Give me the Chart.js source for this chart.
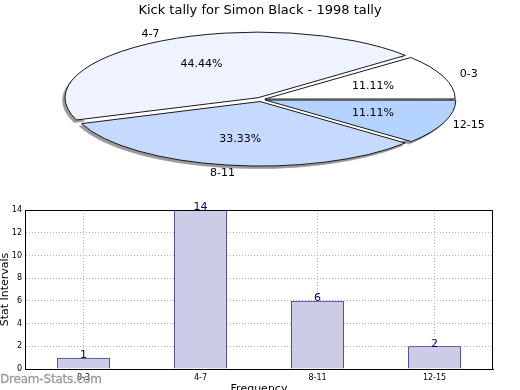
<!DOCTYPE html>
<html>
<head>
<meta charset="utf-8">
<script src="https://cdn.jsdelivr.net/npm/chart.js@4/dist/chart.umd.min.js"></script>
<style>
  html, body { margin:0; padding:0; width:520px; height:390px; overflow:hidden; background:#fff; }
  #pieBox { position:absolute; left:0; top:0; width:520px; height:190px; }
  #barBox { position:absolute; left:0; top:190px; width:520px; height:210px; }
  #wm { position:absolute; left:0; top:372px; font-family:'DejaVu Sans'; font-weight:normal; font-size:12px; color:#999; z-index:5; letter-spacing:-0.2px; -webkit-text-stroke:0.3px #999; }
</style>
</head>
<body>
<div id="pieBox"><canvas id="pie" width="520" height="190"></canvas></div>
<div id="barBox"><canvas id="bar" width="520" height="210"></canvas></div>
<div id="wm">Dream-Stats.com</div>
<script>
// ---- data ----
const title = 'Kick tally for Simon Black - 1998 tally';
const categories = ['0-3', '4-7', '8-11', '12-15'];
const barValues = [1, 14, 6, 2];
const pieValues = [1, 4, 3, 1];          // shares shown: 11.11%, 44.44%, 33.33%, 11.11%
const yTicks = [0, 2, 4, 6, 8, 10, 12, 14];

// ---- styles ----
const pieColors = ['#ffffff', '#eef3ff', '#c6d9ff', '#b4d4ff'];
const pieOffsets = [16, 24, 24, 18];
const FONT = 'DejaVu Sans';

// Pie is drawn clockwise in Chart.js; reverse so it runs counter-clockwise from east like the reference.
const pieLabels = categories.slice().reverse();
const pieData = pieValues.slice().reverse();
const pieBg = pieColors.slice().reverse();
const pieOff = pieOffsets.slice().reverse();

const RADIUS = 189, K = 0.34, TX = 261, TY = 99.5;

function applyEllipse(ctx, cx, cy) {
  ctx.translate(TX, TY);
  ctx.scale(1, K);
  ctx.translate(-cx, -cy);
}

const ellipsePlugin = {
  id: 'ellipse',
  beforeDatasetsDraw(chart) {
    const ctx = chart.ctx;
    const meta = chart.getDatasetMeta(0);
    const el0 = meta.data[0];
    const cx = el0.x, cy = el0.y;
    const base = ctx.getTransform();
    // shadow pass, visible only outside the base ellipse
    ctx.save();
    ctx.beginPath();
    ctx.rect(0, 0, chart.width, chart.height);
    ctx.ellipse(TX, TY, RADIUS - 1, RADIUS * K - 1, 0, 0, Math.PI * 2);
    ctx.clip('evenodd');
    ctx.translate(-2.5, 2.5);
    applyEllipse(ctx, cx, cy);
    meta.data.forEach(el => {
      const fake = Object.create(el);
      fake.options = Object.assign({}, el.options, { backgroundColor: '#9a9a9a', borderColor: '#9a9a9a' });
      el.draw.call(fake, ctx);
    });
    ctx.restore();
    ctx.save();
    applyEllipse(ctx, cx, cy);
    const orig = CanvasRenderingContext2D.prototype.stroke;
    ctx.stroke = function (...a) { this.save(); this.setTransform(base); orig.apply(this, a); this.restore(); };
  },
  afterDatasetsDraw(chart) {
    const ctx = chart.ctx;
    delete ctx.stroke;
    ctx.restore();
    const meta = chart.getDatasetMeta(0);
    const data = chart.data.datasets[0].data;
    const total = data.reduce((a, b) => a + b, 0);
    ctx.save();
    ctx.fillStyle = '#000';
    ctx.textAlign = 'center';
    ctx.textBaseline = 'middle';
    ctx.font = '11px "' + FONT + '"';
    meta.data.forEach((el, i) => {
      const mid = (el.startAngle + el.endAngle) / 2;
      const r = el.outerRadius;
      const p1x = TX + Math.cos(mid) * r * 0.63;
      const p1y = TY + Math.sin(mid) * r * 0.63 * K;
      ctx.fillText((data[i] / total * 100).toFixed(2) + '%', p1x, p1y);
      const p2x = TX + Math.cos(mid) * r * 1.17;
      const p2y = TY + Math.sin(mid) * r * 1.17 * K;
      ctx.fillText(chart.data.labels[i], p2x, p2y);
    });
    ctx.restore();
  }
};

new Chart(document.getElementById('pie'), {
  type: 'pie',
  data: {
    labels: pieLabels,
    datasets: [{
      data: pieData,
      backgroundColor: pieBg,
      borderColor: '#1a1a1a',
      borderWidth: 1,
      offset: pieOff,
      clip: false
    }]
  },
  options: {
    responsive: false,
    animation: false,
    devicePixelRatio: 1,
    radius: RADIUS,
    rotation: 90,
    layout: { padding: 0 },
    plugins: {
      legend: { display: false },
      tooltip: { enabled: false },
      title: {
        display: true, text: title, color: '#000',
        font: { family: FONT, size: 13, weight: 'normal' },
        padding: { top: 3, bottom: 0 }
      }
    }
  },
  plugins: [ellipsePlugin]
});

const barPlugin = {
  id: 'barDecor',
  afterDatasetsDraw(chart) {
    const ctx = chart.ctx;
    const a = chart.chartArea;
    ctx.save();
    ctx.strokeStyle = '#000';
    ctx.lineWidth = 1;
    ctx.strokeRect(Math.round(a.left) + 0.5, Math.round(a.top) + 0.5, Math.round(a.right - a.left) - 1, Math.round(a.bottom - a.top));
    const meta = chart.getDatasetMeta(0);
    ctx.fillStyle = '#000080';
    ctx.font = '11px "' + FONT + '"';
    ctx.textAlign = 'center';
    ctx.textBaseline = 'bottom';
    meta.data.forEach((bar, i) => {
      ctx.fillText(String(chart.data.datasets[0].data[i]), bar.x, bar.y + 3);
    });
    ctx.restore();
  }
};

new Chart(document.getElementById('bar'), {
  type: 'bar',
  data: {
    labels: categories,
    datasets: [{
      data: barValues,
      backgroundColor: '#ccccE6',
      borderColor: '#000080',
      borderWidth: 1,
      categoryPercentage: 1,
      barPercentage: 0.45
    }]
  },
  options: {
    responsive: false,
    animation: false,
    devicePixelRatio: 1,
    layout: { padding: { left: 0, right: 27, top: 20, bottom: 0 } },
    plugins: { legend: { display: false }, tooltip: { enabled: false } },
    scales: {
      x: {
        grid: { offset: false, drawTicks: false, color: '#b4b4b4' },
        border: { display: true, color: '#000', dash: [1, 2] },
        ticks: { font: { family: FONT, size: 8 }, color: '#000', padding: 4 },
        title: { display: true, text: 'Frequency', color: '#000', font: { family: FONT, size: 11 }, padding: { top: 0, bottom: 4 } },
        afterFit: s => { s.height = 31; }
      },
      y: {
        min: 0, max: 14,
        afterBuildTicks: s => { s.ticks = yTicks.map(v => ({ value: v })); },
        grid: { drawTicks: false, color: '#b4b4b4' },
        border: { display: true, color: '#000', dash: [1, 2] },
        ticks: { font: { family: FONT, size: 8 }, color: '#000', padding: 3 },
        title: { display: true, text: 'Stat Intervals', color: '#000', font: { family: FONT, size: 11 }, padding: { top: -1, bottom: 0 } },
        afterFit: s => { s.width = 25; }
      }
    }
  },
  plugins: [barPlugin]
});
</script>
</body>
</html>
